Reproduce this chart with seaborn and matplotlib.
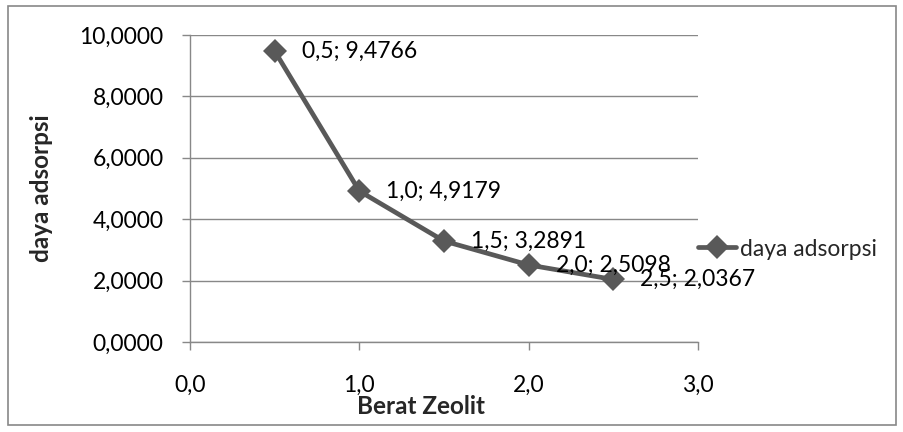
import matplotlib
matplotlib.use("Agg")
import matplotlib.pyplot as plt
import seaborn as sns
import pandas as pd
from matplotlib.patches import Rectangle

berat = [0.5, 1.0, 1.5, 2.0, 2.5]
daya = [9.4766, 4.9179, 3.2891, 2.5098, 2.0367]
x_ticks = [0.0, 1.0, 2.0, 3.0]
y_ticks = [0, 2, 4, 6, 8, 10]
series_name = "daya adsorpsi"

sns.set_theme(style="white")
plt.rcParams["font.family"] = ["Lato", "DejaVu Sans"]

df = pd.DataFrame({"Berat Zeolit": berat, series_name: daya, "seri": series_name})

fig = plt.figure(figsize=(9.04, 4.32), dpi=100)
ax = fig.add_axes([190/904, 1-342/432, 508/904, 307/432])

grid_c = "#888888"
line_c = "#595959"
fs = 16.5

sns.lineplot(data=df, x="Berat Zeolit", y=series_name, hue="seri", palette=[line_c],
             marker="D", markersize=12.5, linewidth=3.4, markeredgewidth=0,
             ax=ax, legend=True)

ax.set_xlim(0, 3)
ax.set_ylim(0, 10)
ax.set_xticks(x_ticks)
ax.set_yticks(y_ticks)
ax.set_xticklabels([f"{v:.1f}".replace(".", ",") for v in x_ticks])
ax.set_yticklabels([f"{v:.4f}".replace(".", ",") for v in y_ticks])
ax.yaxis.grid(True, color=grid_c, linewidth=1.0)
ax.xaxis.grid(False)
ax.set_axisbelow(True)
for s in ["top", "right"]:
    ax.spines[s].set_visible(False)
for s in ["left", "bottom"]:
    ax.spines[s].set_color(grid_c)
    ax.spines[s].set_linewidth(1.0)
ax.tick_params(axis="both", which="major", direction="out", length=6, width=1.0,
               color=grid_c, labelsize=fs, labelcolor="black")
ax.tick_params(axis="y", pad=13)
ax.tick_params(axis="x", pad=18)
ax.tick_params(left=True, bottom=True)

ax.set_xlabel("Berat Zeolit", fontsize=17.5, fontweight="bold")
ax.xaxis.label.set_va("center")
ax.xaxis.set_label_coords((421-190)/508, (342-407)/307)
ax.set_ylabel("daya adsorpsi", fontsize=17.5, fontweight="bold")
ax.yaxis.label.set_va("center")
ax.yaxis.set_label_coords((42-190)/508, 0.5)

for xv, yv in zip(berat, daya):
    lbl = f"{xv:.1f}; {yv:.4f}".replace(".", ",")
    ax.annotate(lbl, (xv, yv), xytext=(19.5, 0), textcoords="offset points",
                ha="left", va="center", fontsize=fs, color="black", annotation_clip=False)

handles, labels = ax.get_legend_handles_labels()
ax.legend(handles, labels, loc="center left", bbox_to_anchor=(1.0, (342-249)/307),
          frameon=False, fontsize=fs, borderaxespad=0, borderpad=0,
          handlelength=1.65, handletextpad=0.2)

fig.patches.append(Rectangle((8/904, 1-425/432), 888/904, 419/432, transform=fig.transFigure,
                             fill=False, edgecolor=grid_c, linewidth=1.2))

fig.savefig("out.png", dpi=100)
